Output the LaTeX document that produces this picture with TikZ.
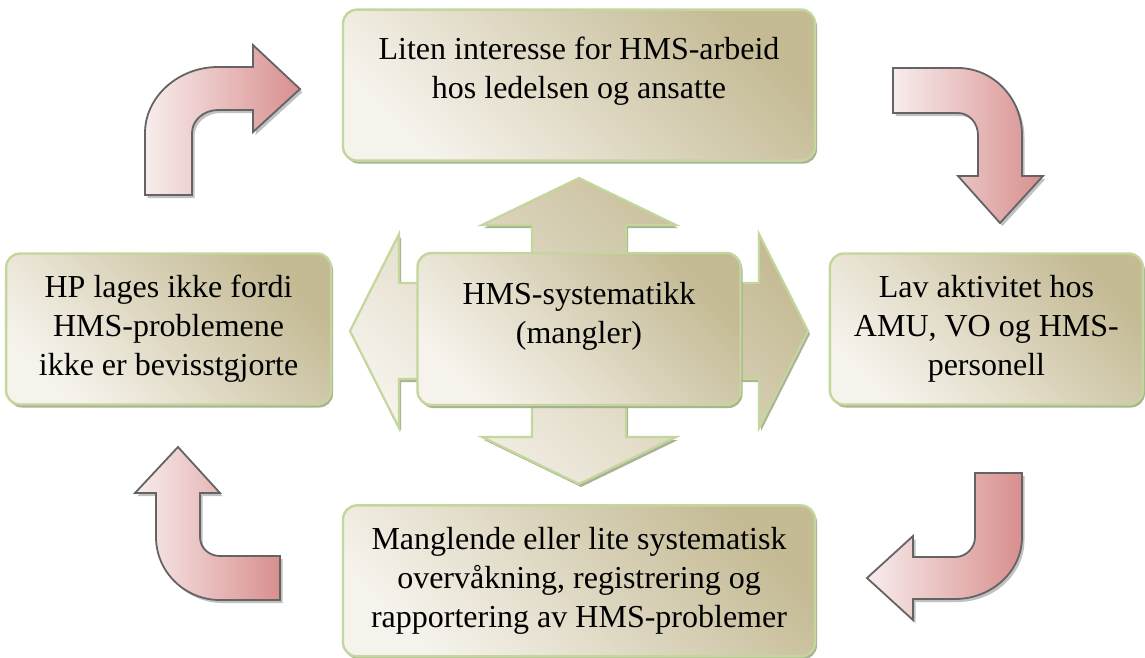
\documentclass[tikz,border=0pt]{standalone}
\usepackage{fontspec}
\setmainfont{Liberation Serif}
\usetikzlibrary{positioning,shadows}
\definecolor{khakidark}{HTML}{C4BA94}
\definecolor{khakilight}{HTML}{F6F3EC}
\definecolor{boxgreen}{HTML}{C3D69B}
\definecolor{boxshade}{HTML}{A0AA88}
\definecolor{pinklight}{HTML}{F8EDED}
\definecolor{pinkdark}{HTML}{D88F8E}
\definecolor{arrowgray}{HTML}{646464}
\tikzset{
  cyclebox/.style={draw=boxgreen,line width=2.4pt,rounded corners=14pt,
    top color=khakidark,bottom color=khakilight,shading angle=-45,
    drop shadow={shadow xshift=2pt,shadow yshift=-3pt,fill=boxshade,opacity=.9},
    align=center,inner sep=0pt,font=\fontsize{32}{39}\selectfont},
  hubarrow/.style={draw=boxgreen,line width=2.2pt,
    top color=khakidark,bottom color=khakilight,shading angle=-45,
    drop shadow={shadow xshift=2pt,shadow yshift=-3pt,fill=boxshade,opacity=.9}},
  bendarrow/.style={draw=arrowgray,line width=1.8pt,left color=pinklight,right color=pinkdark,
    drop shadow={shadow xshift=2.5pt,shadow yshift=-3pt,fill=black!30,opacity=.8}},
}
\begin{document}
\begin{tikzpicture}[x=1pt,y=-1pt]
  \useasboundingbox (0,0) rectangle (1145,657);
  \begin{scope}[shift={(579,331)}]
    \path[hubarrow] (0,-153) -- (97,-106) -- (47,-106) -- (47,-48) -- (180,-48) -- (180,-97) -- (229,0)
      -- (180,97) -- (180,48) -- (47,48) -- (47,106) -- (97,106) -- (0,153) -- (-97,106) -- (-47,106)
      -- (-47,48) -- (-180,48) -- (-180,97) -- (-229,0) -- (-180,-97) -- (-180,-48) -- (-47,-48)
      -- (-47,-106) -- (-97,-106) -- cycle;
  \end{scope}
  \node[cyclebox,minimum width=323pt,minimum height=152pt,text depth=33pt] (mid) at (579,329) {HMS-systematikk\\(mangler)};
  \node[cyclebox,minimum width=472pt,minimum height=151pt,text depth=35pt,above=90pt of mid] (top) {Liten interesse for HMS-arbeid\\hos ledelsen og ansatte};
  \node[cyclebox,minimum width=313pt,minimum height=151pt,right=87pt of mid] (rgt) {Lav aktivitet hos\\AMU, VO og HMS-\\personell};
  \node[cyclebox,minimum width=472pt,minimum height=151pt,below=98pt of mid] (bot) {Manglende eller lite systematisk\\overvåkning, registrering og\\rapportering av HMS-problemer};
  \node[cyclebox,minimum width=325pt,minimum height=151pt,left=84pt of mid] (lft) {HP lages ikke fordi\\HMS-problemene\\ikke er bevisstgjorte};
  \path[bendarrow] (145,195) -- (145,133) .. controls (145,97) and (178,67) .. (218,67) -- (253,67) -- (253,45)
    -- (300,89) -- (253,132) -- (253,110) -- (218,110) .. controls (204,110) and (192,120) .. (192,133) -- (192,195) -- cycle;
  \path[bendarrow] (893,68) -- (958,68) .. controls (993,68) and (1022,98) .. (1022,135) -- (1022,176) -- (1043,176)
    -- (1000,223) -- (958,176) -- (978,176) -- (978,135) .. controls (978,123) and (969,113) .. (958,113) -- (893,113) -- cycle;
  \path[bendarrow] (975,473) -- (1022,473) -- (1022,537) .. controls (1022,571) and (992,599) .. (955,599) -- (913,599)
    -- (913,620) -- (867,578) -- (913,536) -- (913,557) -- (955,557) .. controls (966,557) and (975,548) .. (975,537) -- cycle;
  \path[bendarrow] (178,447) -- (220,493) -- (200,493) -- (200,537) .. controls (200,548) and (209,556) .. (220,556)
    -- (280,556) -- (280,600) -- (220,600) .. controls (185,600) and (156,572) .. (156,537) -- (156,493) -- (135,493) -- cycle;
\end{tikzpicture}
\end{document}
